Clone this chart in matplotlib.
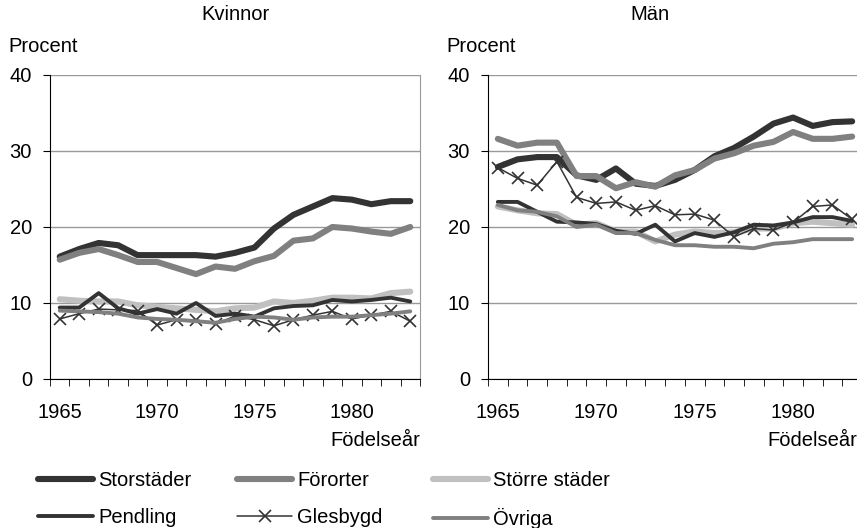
import matplotlib
matplotlib.use('Agg')
import matplotlib.pyplot as plt

plt.rcParams['font.family'] = ['Liberation Sans', 'DejaVu Sans']

years = list(range(1965, 1984))
series_names = ['Storstäder', 'Förorter', 'Större städer', 'Pendling', 'Glesbygd', 'Övriga']

# Kvinnor
kv_storstader = [16.1, 17.1, 17.9, 17.6, 16.3, 16.3, 16.3, 16.3, 16.1, 16.6, 17.3, 19.8, 21.6, 22.7, 23.8, 23.6, 23.0, 23.4, 23.4]
kv_fororter = [15.7, 16.6, 17.1, 16.3, 15.4, 15.4, 14.6, 13.8, 14.8, 14.5, 15.5, 16.2, 18.2, 18.5, 20.0, 19.8, 19.4, 19.1, 20.0]
kv_storre = [10.5, 10.3, 10.2, 10.2, 9.7, 9.5, 9.3, 9.1, 8.9, 9.3, 9.4, 10.2, 10.0, 10.3, 10.7, 10.7, 10.6, 11.3, 11.5]
kv_pendling = [9.4, 9.4, 11.3, 9.3, 8.6, 9.2, 8.6, 10.0, 8.3, 8.6, 8.2, 9.3, 9.6, 9.7, 10.4, 10.2, 10.4, 10.7, 10.2]
kv_glesbygd = [7.9, 8.6, 9.2, 9.1, 9.0, 7.1, 7.8, 7.8, 7.2, 8.3, 7.8, 7.0, 7.8, 8.4, 8.9, 7.9, 8.4, 8.9, 7.6]
kv_ovriga = [9.0, 8.9, 8.8, 8.6, 8.1, 7.9, 7.8, 7.6, 7.4, 7.9, 8.2, 8.1, 7.8, 8.1, 8.2, 8.2, 8.4, 8.6, 8.9]

# Män
man_storstader = [27.9, 28.9, 29.2, 29.2, 26.8, 26.2, 27.7, 25.7, 25.4, 26.2, 27.5, 29.3, 30.4, 31.9, 33.6, 34.4, 33.3, 33.8, 33.9]
man_fororter = [31.6, 30.7, 31.1, 31.1, 26.7, 26.7, 25.1, 25.9, 25.3, 26.8, 27.5, 29.0, 29.7, 30.7, 31.2, 32.5, 31.6, 31.6, 31.9]
man_storre = [22.7, 22.2, 21.8, 21.7, 20.3, 20.5, 19.4, 19.4, 18.1, 19.0, 19.4, 19.2, 19.3, 19.8, 19.8, 20.5, 20.7, 20.5, 20.3]
man_pendling = [23.3, 23.3, 22.0, 20.7, 20.6, 20.4, 19.5, 19.1, 20.3, 18.1, 19.2, 18.7, 19.3, 20.3, 20.2, 20.6, 21.3, 21.3, 20.8]
man_glesbygd = [27.8, 26.4, 25.5, 28.6, 23.9, 23.1, 23.3, 22.2, 22.8, 21.6, 21.7, 20.9, 18.7, 19.8, 19.6, 20.6, 22.7, 22.9, 21.0]
man_ovriga = [22.9, 22.2, 22.0, 21.4, 20.0, 20.3, 19.2, 19.2, 18.3, 17.6, 17.6, 17.4, 17.4, 17.2, 17.8, 18.0, 18.4, 18.4, 18.4]

styles = {
    'Storstäder': dict(color='#333333', lw=4.4),
    'Förorter': dict(color='#808080', lw=4.4),
    'Större städer': dict(color='#c0c0c0', lw=4.4),
    'Pendling': dict(color='#333333', lw=2.8),
    'Glesbygd': dict(color='#333333', lw=1.1, marker='x', markersize=9, markeredgewidth=1.2),
    'Övriga': dict(color='#808080', lw=2.8),
}

FS = 14.5

fig = plt.figure(figsize=(8.57, 5.28), dpi=100)
W, H = 857, 528
bottom = 1 - 379 / H
height = (379 - 75) / H
ax1 = fig.add_axes([50 / W, bottom, 370 / W, height])
ax2 = fig.add_axes([488 / W, bottom, 374 / W, height])

panels = [
    (ax1, [kv_storstader, kv_fororter, kv_storre, kv_pendling, kv_glesbygd, kv_ovriga]),
    (ax2, [man_storstader, man_fororter, man_storre, man_pendling, man_glesbygd, man_ovriga]),
]

x = list(range(len(years)))
for ax, data in panels:
    for name, vals in zip(series_names, data):
        ax.plot(x, vals, label=name, solid_capstyle='round', solid_joinstyle='round', **styles[name])
    ax.set_xlim(-0.5, len(years) - 0.5)
    ax.set_ylim(0, 40)
    ax.set_yticks([0, 10, 20, 30, 40])
    ax.grid(axis='y', color='#999999', lw=1)
    ax.set_axisbelow(True)
    ax.spines['top'].set_visible(False)
    ax.spines['right'].set_color('#999999')
    ax.spines['left'].set_color('black')
    ax.spines['bottom'].set_color('black')
    ax.set_xticks([0, 5, 10, 15])
    ax.set_xticklabels(['1965', '1970', '1975', '1980'])
    ax.set_xticks([i - 0.5 for i in range(len(years) + 1)], minor=True)
    ax.tick_params(axis='x', which='major', length=0, pad=17, labelsize=FS)
    ax.tick_params(axis='x', which='minor', length=5, direction='out', color='black')
    ax.tick_params(axis='y', length=5, direction='out', pad=8, labelsize=FS)

fig.text(235 / W, 1 - 15 / H, 'Kvinnor', ha='center', va='center', fontsize=FS)
fig.text(650 / W, 1 - 15 / H, 'Män', ha='center', va='center', fontsize=FS)
fig.text(8 / W, 1 - 47 / H, 'Procent', ha='left', va='center', fontsize=FS)
fig.text(446 / W, 1 - 47 / H, 'Procent', ha='left', va='center', fontsize=FS)
fig.text(420 / W, 1 - 441 / H, 'Födelseår', ha='right', va='center', fontsize=FS)
fig.text(857 / W, 1 - 441 / H, 'Födelseår', ha='right', va='center', fontsize=FS)

# legend: three columns placed by hand
handles, labels = ax1.get_legend_handles_labels()
columns = [(0, 3, 38), (1, 4, 237), (2, 5, 433)]
for i, j, xpos in columns:
    fig.legend([handles[i], handles[j]], [labels[i], labels[j]],
               loc='upper left', bbox_to_anchor=(xpos / W, 1 - 471 / H),
               frameon=False, fontsize=FS, handlelength=2.75, handletextpad=0.25,
               labelspacing=0.9, borderpad=0, borderaxespad=0)

fig.savefig('out.png', dpi=100)
